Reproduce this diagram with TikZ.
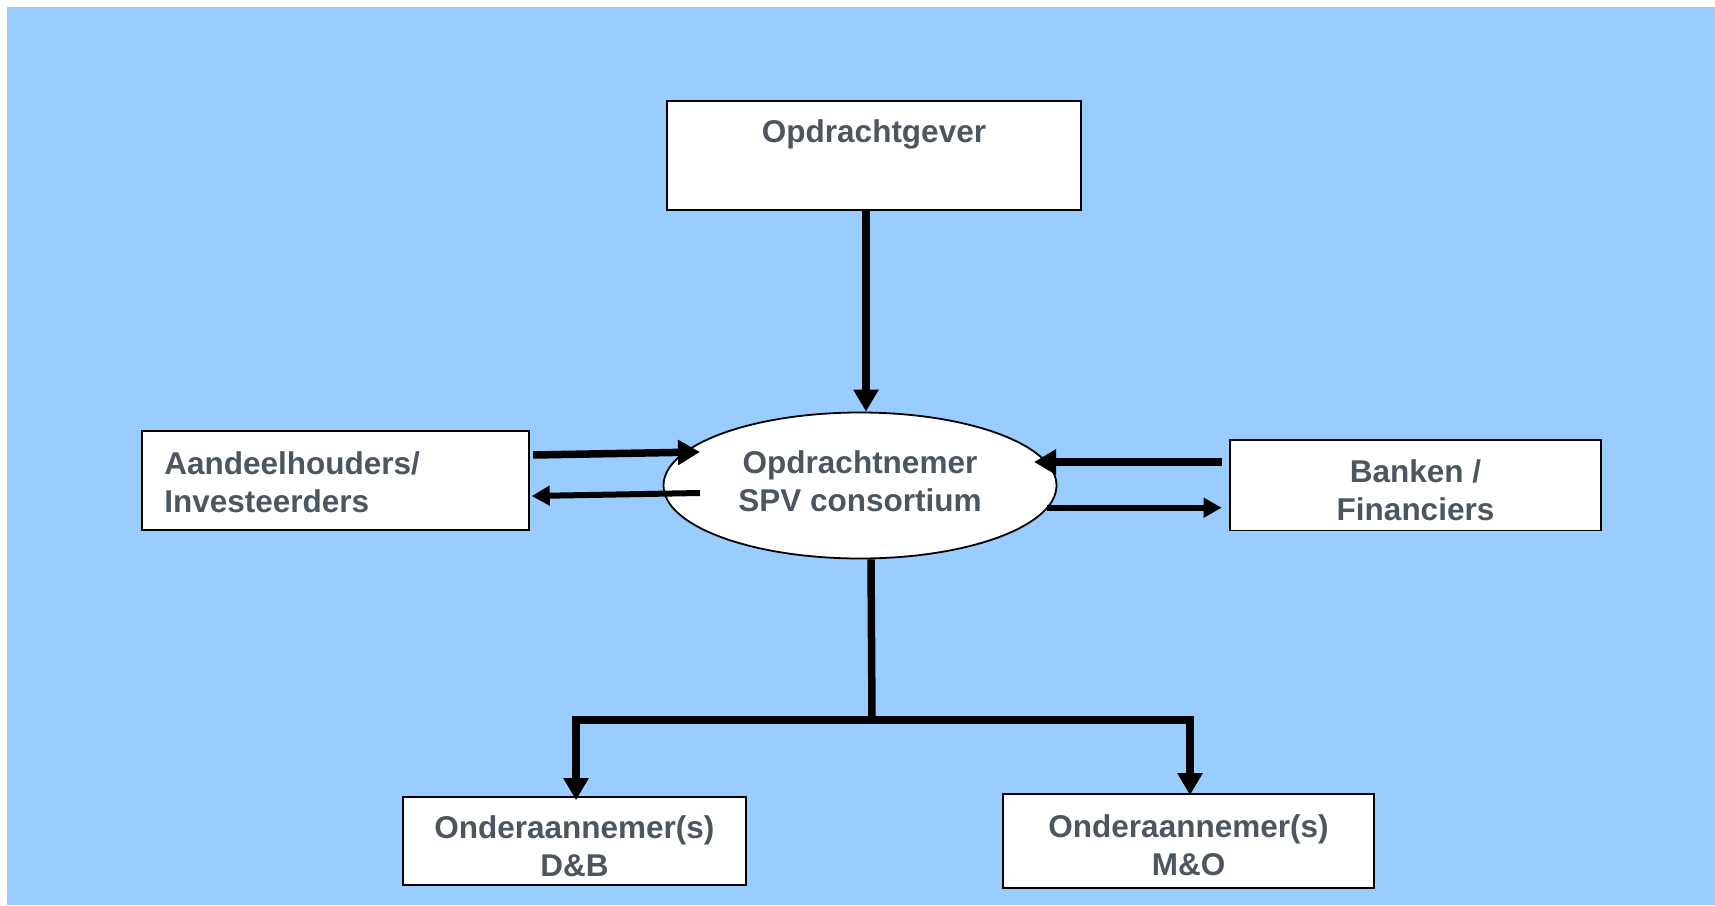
\documentclass[tikz,border=0pt]{standalone}
\usepackage{fontspec}
\setmainfont{Liberation Sans}
\usetikzlibrary{arrows.meta,calc,shapes.geometric}
\definecolor{bgblue}{HTML}{99CCFF}
\definecolor{txtgray}{RGB}{77,86,96}
\begin{document}
\begin{tikzpicture}[x=1pt,y=-1pt,
  lbl/.style={font=\fontsize{31.5}{38}\selectfont\bfseries, text=txtgray, align=center},
  box/.style={draw=black, line width=1.8pt, fill=white, inner sep=0pt},
  thick arrow/.style={line width=7.5pt, -{Triangle[length=22pt,width=24pt]}},
  thin arrow/.style={line width=6pt, -{Triangle[length=18pt,width=19pt]}}]
\useasboundingbox (0,0) rectangle (1715,905);
\fill[bgblue] (7,7) rectangle (1715,905);

\node[box, lbl, minimum width=414pt, minimum height=109pt] (og) at (874,155.4) {Opdrachtgever\\[10pt]\mbox{}};
\node[box, ellipse, minimum width=393pt, minimum height=146pt,
  label={[lbl, yshift=4pt]center:{Opdrachtnemer\\SPV consortium}}] (spv) at (860,485.5) {};
\node[box, minimum width=387pt, minimum height=99pt,
  label={[lbl, align=left, text width=343pt, yshift=-2pt]center:{Aandeelhouders/\\Investeerders}}] (ah) at (335.8,480.5) {};
\node[box, minimum width=371pt, minimum height=90.5pt,
  label={[lbl, yshift=-4.5pt]center:{Banken /\\Financiers}}] (bk) at (1415.5,485.25) {};
\node[box, minimum width=343pt, minimum height=88pt,
  label={[lbl, yshift=-5pt]center:{Onderaannemer(s)\\D\&B}}] (db) at (574.4,841) {};
\node[box, minimum width=371pt, minimum height=94pt,
  label={[lbl, yshift=-4pt]center:{Onderaannemer(s)\\M\&O}}] (mo) at (1188.5,841) {};

% Opdrachtgever -> SPV
\coordinate (a1) at ($(og.south)+(-8,0)$);
\draw[thick arrow] (a1) -- (a1 |- spv.north);

% Aandeelhouders <-> SPV
\draw[thick arrow] ($(ah.east)+(3,-25.5)$) -- ($(spv.center)+(-160,-33.5)$);
\draw[thin arrow] ($(spv.center)+(-160,7.5)$) -- ($(ah.east)+(1.5,15.5)$);

% Banken <-> SPV
\draw[thick arrow] ($(bk.west)+(-7.5,-23.25)$) -- ($(spv.center)+(174,-23.5)$);
\draw[thin arrow] ($(spv.center)+(187,22.2)$) -- ($(bk.west)+(-7.5,22.45)$);

% tree to subcontractors
\coordinate (j) at (872,720);
\draw[line width=7.5pt] ($(spv.south)+(11,0)$) -- (j);
\draw[line width=7.5pt, line join=miter, {Triangle[length=22pt,width=24pt]}-{Triangle[length=22pt,width=24pt]}]
  ($(db.north)+(1.6,4)$) |- (j) -| ($(mo.north)+(1.5,2)$);
\end{tikzpicture}
\end{document}
